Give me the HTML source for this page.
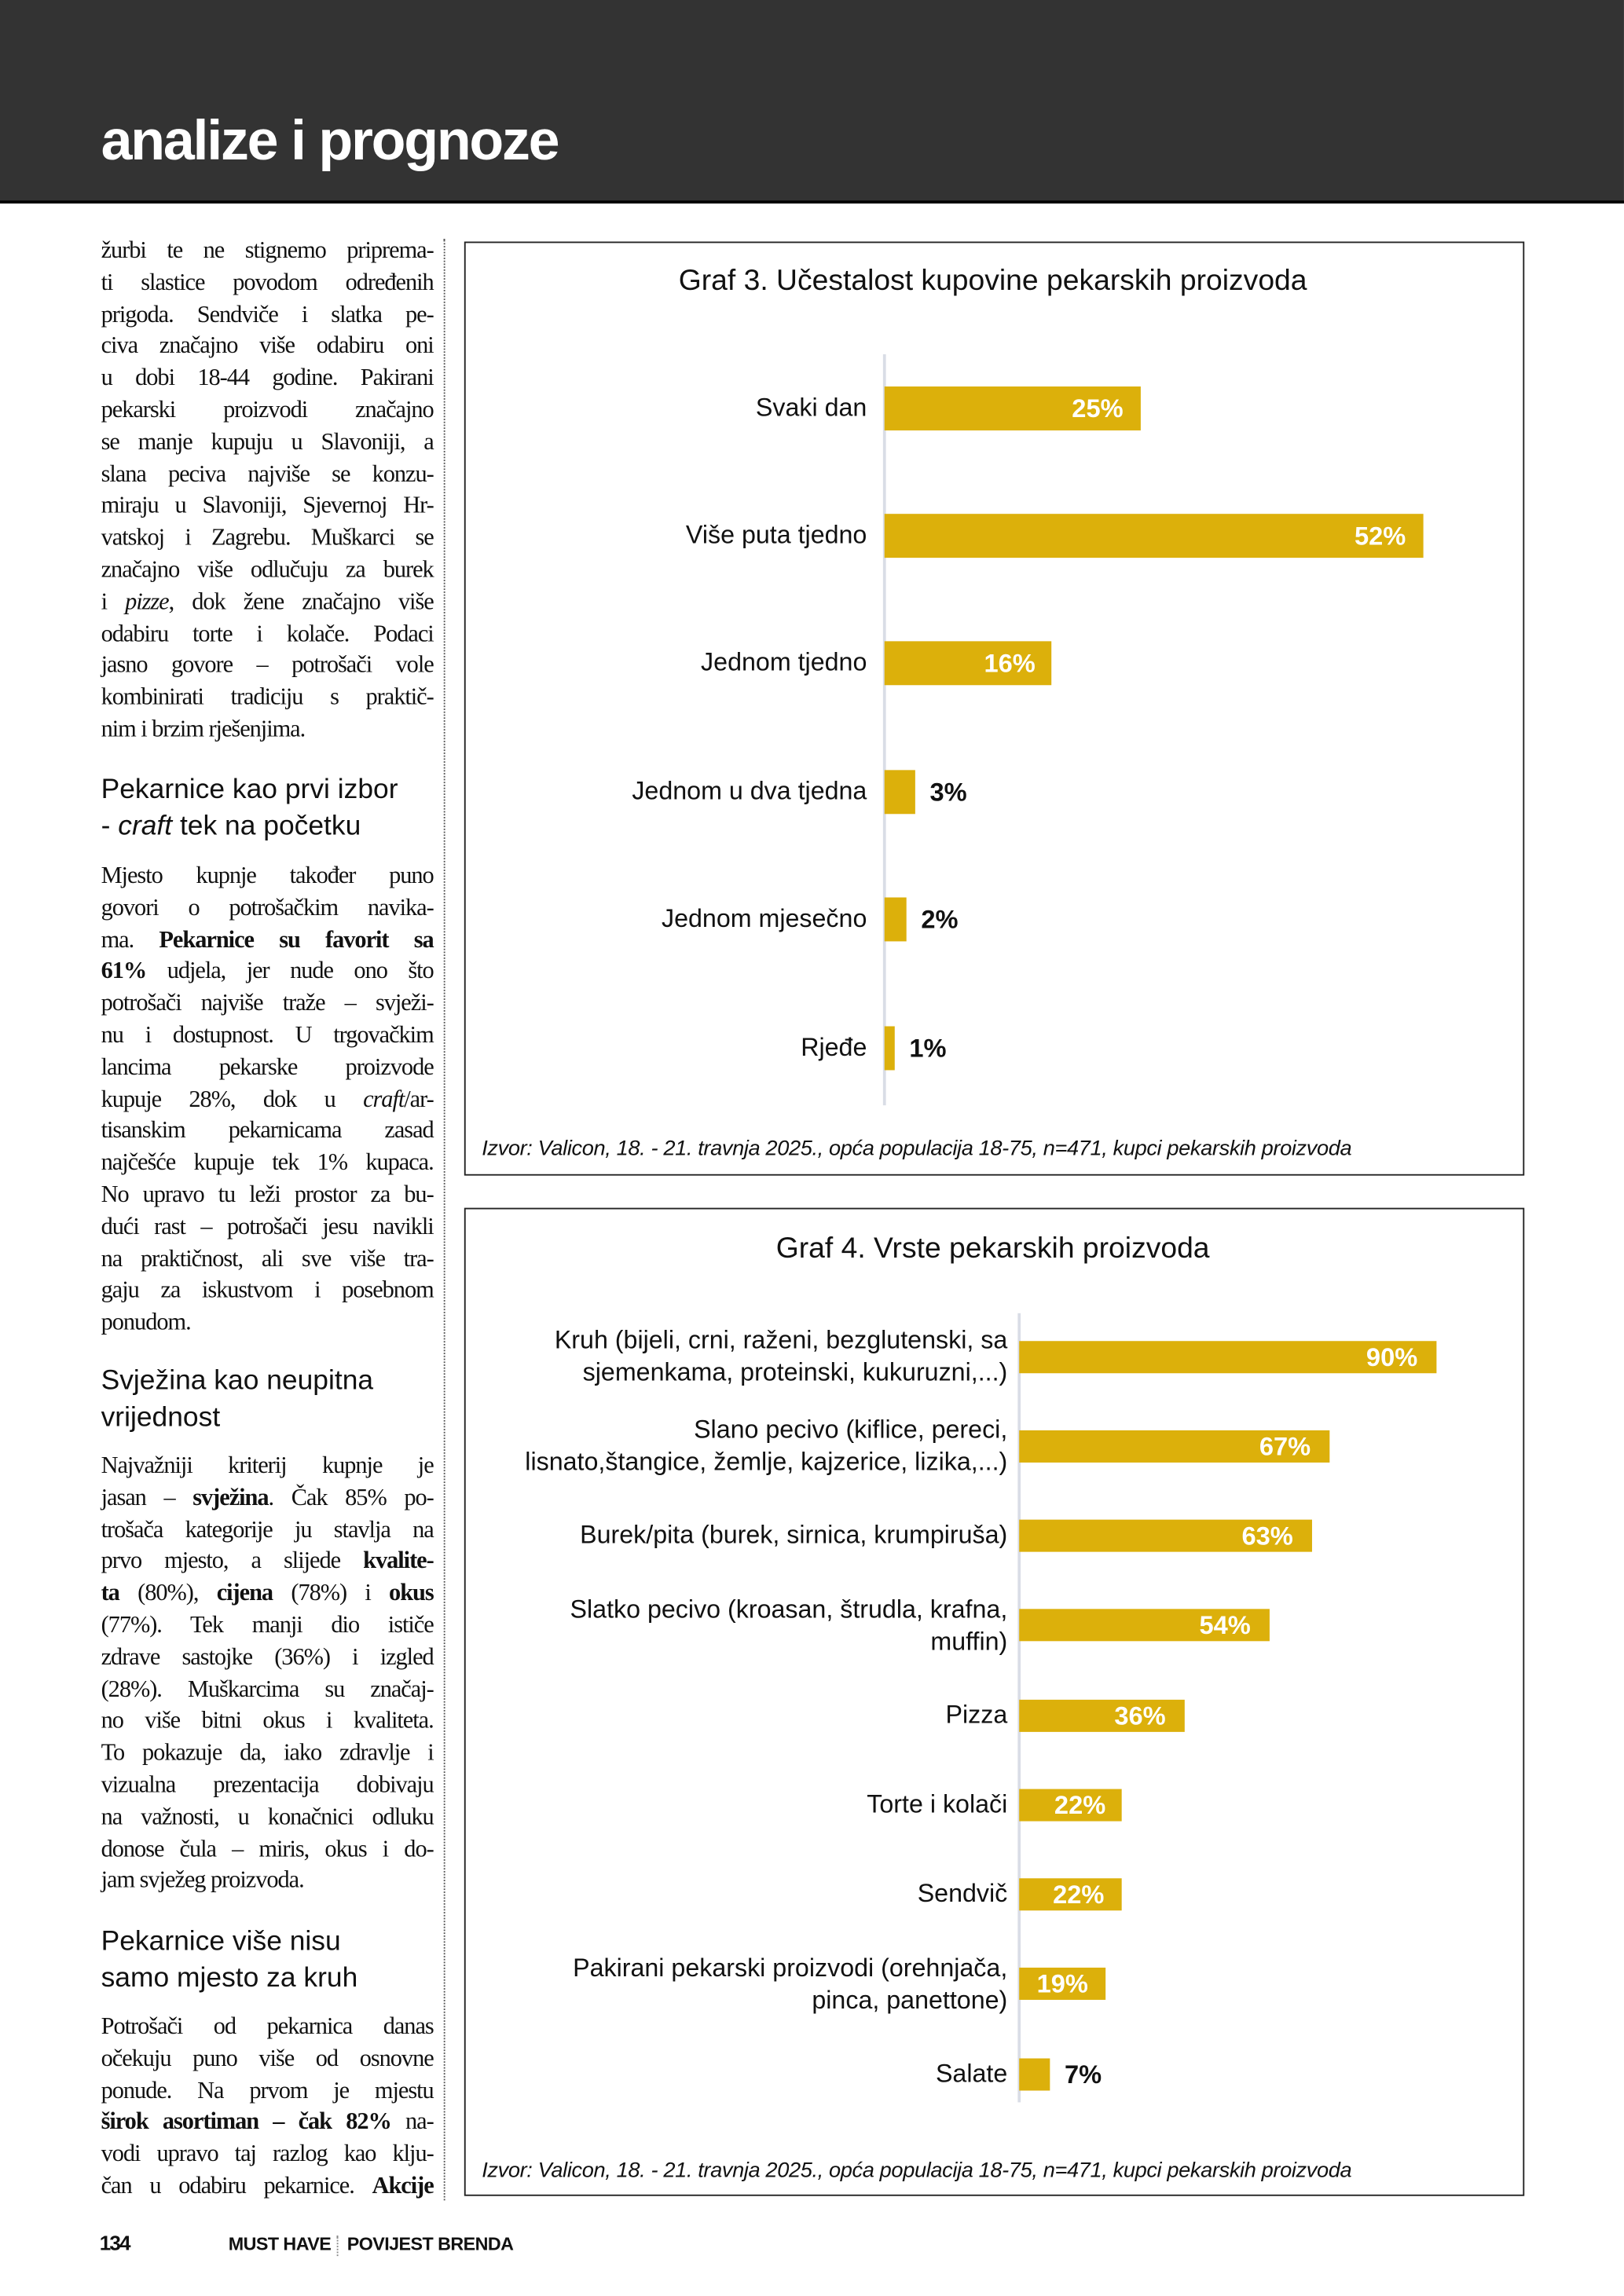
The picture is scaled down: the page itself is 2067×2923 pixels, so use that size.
<!DOCTYPE html>
<html><head><meta charset="utf-8">
<style>
html,body{margin:0;padding:0;background:#fff;}
body{width:2067px;height:2923px;overflow:hidden;position:relative;}
#s{position:absolute;left:0;top:0;width:1109px;height:1568px;transform:scale(1.8638);transform-origin:0 0;font-family:"Liberation Sans",sans-serif;color:#111;}
.a{position:absolute;white-space:nowrap;}
.hdr{position:absolute;left:0;top:0;width:1109px;height:137px;background:#333333;border-bottom:2px solid #000;}
.ttl{position:absolute;left:69px;top:75px;font-size:38.5px;font-weight:bold;color:#fff;letter-spacing:-1.2px;}
.col{position:absolute;left:69px;width:227px;font-family:"Liberation Serif",serif;font-size:16.3px;letter-spacing:-0.55px;}
.col div{height:21.8px;line-height:21.8px;text-align:justify;text-align-last:justify;white-space:nowrap;overflow:visible;}
.col div.l{text-align-last:left;}
.h{position:absolute;left:69px;font-size:19px;line-height:25px;}
.box{position:absolute;left:317px;width:722px;border:1.5px solid #222;}
.ct{position:absolute;width:722px;text-align:center;font-size:20px;}
.lab{position:absolute;text-align:right;font-size:17.3px;line-height:22px;}
.bar{position:absolute;background:#dcb00b;}
.v{position:absolute;font-weight:bold;font-size:17.5px;color:#fff;}
.vo{position:absolute;font-weight:bold;font-size:17.5px;color:#111;}
.src{position:absolute;left:329px;font-style:italic;font-size:14.6px;letter-spacing:-0.2px;}
.ax{position:absolute;width:1.5px;background:#d9dde6;}
</style></head><body><div id="s">
<div class="hdr"></div>
<div class="ttl">analize i prognoze</div>
<div class="a" style="left:303px;top:163px;height:1340px;border-left:1.3px dotted #555;"></div>

<div class="col" style="top:160px">
<div>žurbi te ne stignemo priprema-</div>
<div>ti slastice povodom određenih</div>
<div>prigoda. Sendviče i slatka pe-</div>
<div>civa značajno više odabiru oni</div>
<div>u dobi 18-44 godine. Pakirani</div>
<div>pekarski proizvodi značajno</div>
<div>se manje kupuju u Slavoniji, a</div>
<div>slana peciva najviše se konzu-</div>
<div>miraju u Slavoniji, Sjevernoj Hr-</div>
<div>vatskoj i Zagrebu. Muškarci se</div>
<div>značajno više odlučuju za burek</div>
<div>i <i>pizze</i>, dok žene značajno više</div>
<div>odabiru torte i kolače. Podaci</div>
<div>jasno govore – potrošači vole</div>
<div>kombinirati tradiciju s praktič-</div>
<div class="l">nim i brzim rješenjima.</div>
</div>
<div class="h" style="top:527px">Pekarnice kao prvi izbor<br>- <i>craft</i> tek na početku</div>
<div class="col" style="top:587px">
<div>Mjesto kupnje također puno</div>
<div>govori o potrošačkim navika-</div>
<div>ma. <b>Pekarnice su favorit sa</b></div>
<div><b>61%</b> udjela, jer nude ono što</div>
<div>potrošači najviše traže – svježi-</div>
<div>nu i dostupnost. U trgovačkim</div>
<div>lancima pekarske proizvode</div>
<div>kupuje 28%, dok u <i>craft</i>/ar-</div>
<div>tisanskim pekarnicama zasad</div>
<div>najčešće kupuje tek 1% kupaca.</div>
<div>No upravo tu leži prostor za bu-</div>
<div>dući rast – potrošači jesu navikli</div>
<div>na praktičnost, ali sve više tra-</div>
<div>gaju za iskustvom i posebnom</div>
<div class="l">ponudom.</div>
</div>
<div class="h" style="top:931px">Svježina kao neupitna<br>vrijednost</div>
<div class="col" style="top:990px">
<div>Najvažniji kriterij kupnje je</div>
<div>jasan – <b>svježina</b>. Čak 85% po-</div>
<div>trošača kategorije ju stavlja na</div>
<div>prvo mjesto, a slijede <b>kvalite-</b></div>
<div><b>ta</b> (80%), <b>cijena</b> (78%) i <b>okus</b></div>
<div>(77%). Tek manji dio ističe</div>
<div>zdrave sastojke (36%) i izgled</div>
<div>(28%). Muškarcima su značaj-</div>
<div>no više bitni okus i kvaliteta.</div>
<div>To pokazuje da, iako zdravlje i</div>
<div>vizualna prezentacija dobivaju</div>
<div>na važnosti, u konačnici odluku</div>
<div>donose čula – miris, okus i do-</div>
<div class="l">jam svježeg proizvoda.</div>
</div>
<div class="h" style="top:1314px">Pekarnice više nisu<br>samo mjesto za kruh</div>
<div class="col" style="top:1373px">
<div>Potrošači od pekarnica danas</div>
<div>očekuju puno više od osnovne</div>
<div>ponude. Na prvom je mjestu</div>
<div><b>širok asortiman – čak 82%</b> na-</div>
<div>vodi upravo taj razlog kao klju-</div>
<div>čan u odabiru pekarnice. <b>Akcije</b></div>
</div>

<!-- Chart 3 -->
<div class="box" style="top:165px;height:636px"></div>
<div class="ct" style="left:317px;top:181px">Graf 3. Učestalost kupovine pekarskih proizvoda</div>
<div class="ax" style="left:603px;top:242px;height:513px"></div>
<div class="lab" style="right:517px;top:267px">Svaki dan</div>
<div class="bar" style="left:604px;top:264px;width:175px;height:30px"></div>
<div class="v" style="left:732px;top:269px">25%</div>
<div class="lab" style="right:517px;top:354px">Više puta tjedno</div>
<div class="bar" style="left:604px;top:351px;width:368px;height:30px"></div>
<div class="v" style="left:925px;top:356px">52%</div>
<div class="lab" style="right:517px;top:441px">Jednom tjedno</div>
<div class="bar" style="left:604px;top:438px;width:114px;height:30px"></div>
<div class="v" style="left:672px;top:443px">16%</div>
<div class="lab" style="right:517px;top:529px">Jednom u dva tjedna</div>
<div class="bar" style="left:604px;top:526px;width:21px;height:30px"></div>
<div class="vo" style="left:635px;top:531px">3%</div>
<div class="lab" style="right:517px;top:616px">Jednom mjesečno</div>
<div class="bar" style="left:604px;top:613px;width:15px;height:30px"></div>
<div class="vo" style="left:629px;top:618px">2%</div>
<div class="lab" style="right:517px;top:704px">Rjeđe</div>
<div class="bar" style="left:604px;top:701px;width:7px;height:30px"></div>
<div class="vo" style="left:621px;top:706px">1%</div>
<div class="src" style="top:777px">Izvor: Valicon, 18. - 21. travnja 2025., opća populacija 18-75, n=471, kupci pekarskih proizvoda</div>

<!-- Chart 4 -->
<div class="box" style="top:825px;height:673px"></div>
<div class="ct" style="left:317px;top:842px">Graf 4. Vrste pekarskih proizvoda</div>
<div class="ax" style="left:695px;top:897px;height:539px"></div>
<div class="lab" style="right:421px;top:904px">Kruh (bijeli, crni, raženi, bezglutenski, sa<br>sjemenkama, proteinski, kukuruzni,...)</div>
<div class="bar" style="left:696px;top:916px;width:285px;height:22px"></div>
<div class="v" style="left:933px;top:917px">90%</div>
<div class="lab" style="right:421px;top:965px">Slano pecivo (kiflice, pereci,<br>lisnato,štangice, žemlje, kajzerice, lizika,...)</div>
<div class="bar" style="left:696px;top:977px;width:212px;height:22px"></div>
<div class="v" style="left:860px;top:978px">67%</div>
<div class="lab" style="right:421px;top:1037px">Burek/pita (burek, sirnica, krumpiruša)</div>
<div class="bar" style="left:696px;top:1038px;width:200px;height:22px"></div>
<div class="v" style="left:848px;top:1039px">63%</div>
<div class="lab" style="right:421px;top:1088px">Slatko pecivo (kroasan, štrudla, krafna,<br>muffin)</div>
<div class="bar" style="left:696px;top:1099px;width:171px;height:22px"></div>
<div class="v" style="left:819px;top:1100px">54%</div>
<div class="lab" style="right:421px;top:1160px">Pizza</div>
<div class="bar" style="left:696px;top:1161px;width:113px;height:22px"></div>
<div class="v" style="left:761px;top:1162px">36%</div>
<div class="lab" style="right:421px;top:1221px">Torte i kolači</div>
<div class="bar" style="left:696px;top:1222px;width:70px;height:22px"></div>
<div class="v" style="left:720px;top:1223px">22%</div>
<div class="lab" style="right:421px;top:1282px">Sendvič</div>
<div class="bar" style="left:696px;top:1283px;width:70px;height:22px"></div>
<div class="v" style="left:719px;top:1284px">22%</div>
<div class="lab" style="right:421px;top:1333px">Pakirani pekarski  proizvodi (orehnjača,<br>pinca, panettone)</div>
<div class="bar" style="left:696px;top:1344px;width:59px;height:22px"></div>
<div class="v" style="left:708px;top:1345px">19%</div>
<div class="lab" style="right:421px;top:1405px">Salate</div>
<div class="bar" style="left:696px;top:1406px;width:21px;height:22px"></div>
<div class="vo" style="left:727px;top:1407px">7%</div>
<div class="src" style="top:1475px">Izvor: Valicon, 18. - 21. travnja 2025., opća populacija 18-75, n=471, kupci pekarskih proizvoda</div>

<!-- footer -->
<div class="a" style="left:68px;top:1524px;font-size:14px;font-weight:bold;letter-spacing:-1px;">134</div>
<div class="a" style="left:156px;top:1526px;font-size:12.5px;font-weight:bold;letter-spacing:-0.3px;">MUST HAVE</div>
<div class="a" style="left:230px;top:1527px;height:14px;border-left:1px dotted #888;"></div>
<div class="a" style="left:237px;top:1526px;font-size:12.5px;font-weight:bold;letter-spacing:-0.3px;">POVIJEST BRENDA</div>
</div></body></html>
